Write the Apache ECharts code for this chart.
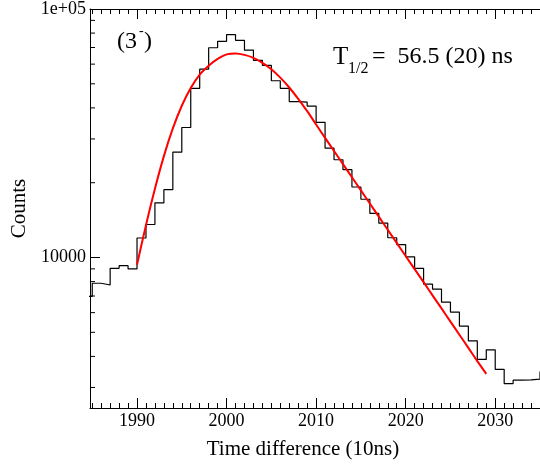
<!DOCTYPE html>
<html>
<head>
<meta charset="utf-8">
<script src="https://cdn.jsdelivr.net/npm/echarts@6/dist/echarts.min.js"></script>
<style>
html,body{margin:0;padding:0;background:#fff;}
#chart{width:540px;height:465px;}
</style>
</head>
<body>
<div id="chart"></div>
<script>
// Histogram: left bin edges (10 ns units) and counts
const binStarts = [1984,1985,1986,1987,1988,1989,1990,1991,1992,1993,1994,1995,1996,1997,1998,1999,2000,2001,2002,2003,2004,2005,2006,2007,2008,2009,2010,2011,2012,2013,2014,2015,2016,2017,2018,2019,2020,2021,2022,2023,2024,2025,2026,2027,2028,2029,2030,2031,2032,2033,2034,2035];
const counts = [6980,7880,7750,9050,9270,9000,11980,13580,16600,18750,26540,33360,47970,57240,69830,74130,78800,74820,68300,62150,59360,51430,47970,42430,42200,40690,35000,27530,24740,22570,19220,17160,15050,13740,12010,11260,10060,9050,7810,7460,6610,6030,5300,4620,3890,4250,3550,3110,3210,3220,3240,3480];
// Fit curve
const fitX = [1990,1991,1992,1993,1994,1995,1996,1997,1998,1999,2000,2001,2002,2003,2004,2005,2006,2007,2008,2009,2010,2011,2012,2013,2014,2015,2016,2017,2018,2019,2020,2021,2022,2023,2024,2025,2026,2027,2028,2029];
const fitY = [9350,13490,18920,25590,33060,40800,48100,54430,59100,63000,65660,66260,65360,63580,60740,57240,52960,48320,43490,38800,34290,30300,26840,23760,21040,18630,16490,14600,12930,11450,10140,8980,7960,7040,6240,5520,4890,4330,3830,3400];
// Axis ticks
const xMajorTicks = [1990,2000,2010,2020,2030];
const xMinorTicks = [1985,1986,1987,1988,1989,1991,1992,1993,1994,1995,1996,1997,1998,1999,2001,2002,2003,2004,2005,2006,2007,2008,2009,2011,2012,2013,2014,2015,2016,2017,2018,2019,2021,2022,2023,2024,2025,2026,2027,2028,2029,2031,2032,2033,2034];
const yMinorTicks = [3000,4000,5000,6000,7000,8000,9000,20000,30000,40000,50000,60000,70000,80000,90000];
const xMin = 1984.75, xMax = 2035, yMin = 2480, yMax = 100000;

const FONT = 'Liberation Serif';
const chart = echarts.init(document.getElementById('chart'));

function xAx(pos, values, len, showLine, label, name) {
  return {
    type: 'value', min: xMin, max: xMax, position: pos,
    axisLine: {show: showLine, onZero: false, lineStyle: {color: '#000', width: 1}},
    axisTick: {show: true, inside: true, length: len, customValues: values, lineStyle: {color: '#000', width: 1}},
    axisLabel: label ? {show: true, customValues: values, color: '#000', fontFamily: FONT, fontSize: 18, margin: 4,
                        formatter: function (v) { return String(Math.round(v)); }} : {show: false},
    splitLine: {show: false},
    name: name || '', nameLocation: 'middle', nameGap: 31,
    nameTextStyle: {color: '#000', fontFamily: FONT, fontSize: 21, padding: [0, 24, 0, 0]}
  };
}

const histData = binStarts.map((x, i) => [x, counts[i]]);
const fitData = fitX.map((x, i) => [x, fitY[i]]);
const minorYData = yMinorTicks.map(v => [xMin, v]);

chart.setOption({
  animation: false,
  backgroundColor: '#fff',
  grid: {left: 90, top: 9, width: 450, height: 404, containLabel: false},
  xAxis: [
    xAx('bottom', xMajorTicks, 10, true, true, 'Time difference (10ns)'),
    xAx('bottom', xMinorTicks, 5, false, false),
    xAx('top', xMajorTicks, 10, true, false),
    xAx('top', xMinorTicks, 5, false, false)
  ],
  yAxis: [{
    type: 'log', logBase: 10, min: yMin, max: yMax, position: 'left',
    axisLine: {show: true, onZero: false, lineStyle: {color: '#000', width: 1}},
    axisTick: {show: true, inside: true, length: 10, lineStyle: {color: '#000', width: 1}},
    axisLabel: {
      color: '#000', fontFamily: FONT, fontSize: 18, margin: 4,
      showMinLabel: false,
      formatter: function (v) {
        if (Math.abs(v - 100000) < 1) return '1e+05';
        if (Math.abs(v - 10000) < 1) return '10000';
        return '';
      }
    },
    splitLine: {show: false},
    name: 'Counts', nameLocation: 'middle', nameGap: 54, nameRotate: 90,
    nameTextStyle: {color: '#000', fontFamily: FONT, fontSize: 21}
  }],
  series: [
    {
      type: 'line', data: histData, step: 'end', showSymbol: false, symbol: 'none',
      lineStyle: {color: '#000', width: 1.2}, clip: true, z: 2
    },
    {
      type: 'line', data: fitData, smooth: 0.3, showSymbol: false, symbol: 'none',
      lineStyle: {color: '#ff0000', width: 2}, clip: true, z: 3
    },
    {
      type: 'custom', data: minorYData, clip: false, z: 1,
      renderItem: function (params, api) {
        const p = api.coord([api.value(0), api.value(1)]);
        return {type: 'line', shape: {x1: p[0], y1: p[1], x2: p[0] + 5, y2: p[1]},
                style: {stroke: '#000', lineWidth: 1}};
      }
    }
  ],
  graphic: [
    {type: 'text', style: {text: '(3', x: 117, y: 42, font: '24px "' + FONT + '"', fill: '#000', verticalAlign: 'middle'}},
    {type: 'text', style: {text: '-', x: 139, y: 31, font: '14px "' + FONT + '"', fill: '#000', verticalAlign: 'middle'}},
    {type: 'text', style: {text: ')', x: 144, y: 42, font: '24px "' + FONT + '"', fill: '#000', verticalAlign: 'middle'}},
    {type: 'text', style: {text: 'T', x: 333, y: 57, font: '25px "' + FONT + '"', fill: '#000', verticalAlign: 'middle'}},
    {type: 'text', style: {text: '1/2', x: 348, y: 69, font: '16px "' + FONT + '"', fill: '#000', verticalAlign: 'middle'}},
    {type: 'text', style: {text: '=  56.5 (20) ns', x: 372, y: 57, font: '24px "' + FONT + '"', fill: '#000', verticalAlign: 'middle'}}
  ]
});
</script>
</body>
</html>
